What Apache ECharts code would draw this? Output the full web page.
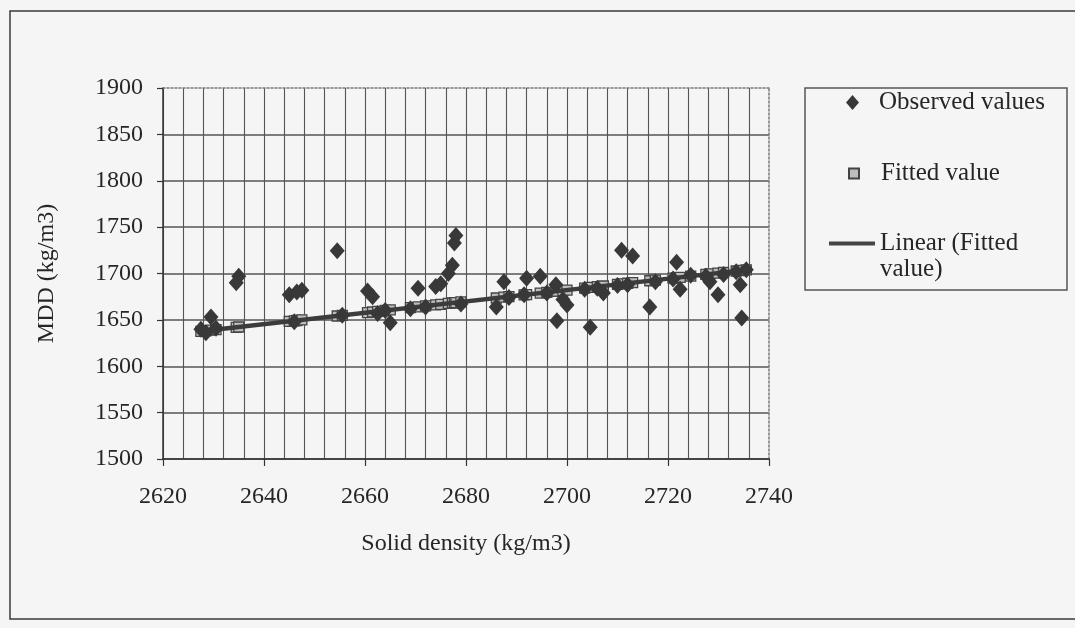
<!DOCTYPE html>
<html>
<head>
<meta charset="utf-8">
<script src="https://cdn.jsdelivr.net/npm/echarts@6/dist/echarts.min.js"></script>
<style>
html,body{margin:0;padding:0;background:#f5f5f5;}
#c{width:1075px;height:628px;}
</style>
</head>
<body>
<div id="c"></div>
<script>
// Solid density (x) for each sample
var density = [2627.5,2628.5,2629.5,2630.5,2634.5,2635,2645,2646,2646.5,2647.5,
  2654.5,2655.5,2660.5,2661.5,2662.5,2664,2665,2669,2670.5,2672,
  2674,2675,2676.5,2677.3,2677.7,2678,2679,2686,2687.5,2688.5,
  2691.5,2692,2694.7,2696,2697.8,2698,2699.2,2700,2703.5,2704.6,
  2706,2707.2,2710,2710.8,2712,2713,2716.4,2717.5,2721,2721.7,
  2722.4,2724.5,2727.5,2728.3,2729.9,2731,2733.5,2734.3,2734.6,2735.5];
// Observed MDD values
var observed = [1640,1636,1653,1641,1690,1697,1677,1648,1680,1682,
  1724.5,1655,1681,1675,1657,1660,1647,1662,1684,1664,
  1686,1689,1700,1709,1733,1741,1667,1664,1691,1674,
  1677,1695,1697,1679,1688,1649,1672,1666,1683,1642,
  1684,1679,1687,1725,1688,1719,1664,1691,1694,1712,
  1683,1698,1697,1691,1677,1699,1702,1688,1652,1704];
// Fitted MDD values
var fitted = [1637.7,1638.3,1638.9,1639.5,1642.0,1642.3,1648.4,1649.0,1649.3,1650.0,
  1654.2,1654.9,1657.9,1658.5,1659.1,1660.1,1660.7,1663.1,1664.1,1665.0,
  1666.2,1666.8,1667.7,1668.2,1668.5,1668.7,1669.3,1673.6,1674.5,1675.1,
  1676.9,1677.2,1678.9,1679.7,1680.8,1680.9,1681.6,1682.1,1684.3,1685.0,
  1685.8,1686.5,1688.3,1688.8,1689.5,1690.1,1692.2,1692.9,1695.0,1695.4,
  1695.9,1697.2,1699.0,1699.5,1700.5,1701.1,1702.7,1703.2,1703.3,1703.9];
var seriesNames = ['Observed values','Fitted value','Linear (Fitted value)'];
var xAxisTitle = 'Solid density (kg/m3)';
var yAxisTitle = 'MDD (kg/m3)';

function pairs(xs, ys){ var out=[]; for(var i=0;i<xs.length;i++) out.push([xs[i], ys[i]]); return out; }
var obsData = pairs(density, observed);
var fitData = pairs(density, fitted);
var lineData = [fitData[0], fitData[fitData.length-1]];

var FONT = 'Liberation Serif';
var TXT = '#262626';
var GRID = '#555555';

var chart = echarts.init(document.getElementById('c'), null, {renderer:'canvas'});
var ySplitColors = []; for (var k=0;k<9;k++) ySplitColors.push(k===8?'rgba(0,0,0,0)':GRID);
var xSplitColors = []; for (var k=0;k<7;k++) xSplitColors.push(k===6?'rgba(0,0,0,0)':GRID);
function plain(v){ return String(v); }

chart.setOption({
  backgroundColor: '#f5f5f5',
  animation: false,
  grid: {left:163, top:88, right:306, bottom:169, containLabel:false},
  xAxis: [{
    type:'value', min:2620, max:2740, interval:20,
    name: xAxisTitle, nameLocation:'middle', nameGap:73,
    nameTextStyle:{fontFamily:FONT, fontSize:24, color:TXT},
    axisLine:{show:true, onZero:false, lineStyle:{color:'#333', width:1.5}},
    axisTick:{show:true, inside:false, length:7, lineStyle:{color:'#333', width:1.2}},
    axisLabel:{fontFamily:FONT, fontSize:24, color:TXT, margin:26, formatter:plain},
    splitLine:{show:true, lineStyle:{color:xSplitColors, width:1.1}},
    minorTick:{show:false, splitNumber:5},
    minorSplitLine:{show:true, lineStyle:{color:GRID, width:1.1}}
  },{
    type:'value', position:'top', min:2620, max:2740, interval:20,
    axisLine:{show:true, lineStyle:{color:'#777', width:1.5, type:[2,2]}},
    axisTick:{show:false}, axisLabel:{show:false}, splitLine:{show:false}
  }],
  yAxis: [{
    type:'value', min:1500, max:1900, interval:50,
    name: yAxisTitle, nameLocation:'middle', nameGap:104,
    nameTextStyle:{fontFamily:FONT, fontSize:24, color:TXT},
    axisLine:{show:true, onZero:false, lineStyle:{color:'#333', width:1.5}},
    axisTick:{show:true, inside:false, length:6, lineStyle:{color:'#333', width:1.2}},
    axisLabel:{fontFamily:FONT, fontSize:24, color:TXT, margin:20, formatter:plain},
    splitLine:{show:true, lineStyle:{color:ySplitColors, width:1.6}}
  },{
    type:'value', position:'right', min:1500, max:1900, interval:50,
    axisLine:{show:true, lineStyle:{color:'#777', width:1.5, type:[2,2]}},
    axisTick:{show:false}, axisLabel:{show:false}, splitLine:{show:false}
  }],
  legend: [{
    data:[{name:seriesNames[0], icon:'diamond'}],
    left:846, top:90, padding:0, itemWidth:13, itemHeight:15,
    textStyle:{fontFamily:FONT, fontSize:25, color:TXT, padding:[0,0,0,15]}
  },{
    data:[{name:seriesNames[1], icon:'rect'}],
    left:848, top:161, padding:0, itemWidth:10, itemHeight:10,
    textStyle:{fontFamily:FONT, fontSize:25, color:TXT, padding:[0,0,0,17]}
  },{
    data:[{name:seriesNames[2], icon:'rect', itemStyle:{color:'#444'}}],
    left:829, top:231, padding:0, itemWidth:46, itemHeight:4,
    formatter:function(){ return 'Linear (Fitted'; },
    textStyle:{fontFamily:FONT, fontSize:25, color:TXT, padding:[0,0,0,0]}
  }],
  graphic: [
    {type:'rect', shape:{x:10, y:11, width:1100, height:608}, style:{fill:'none', stroke:'#3a3a3a', lineWidth:1.5}, silent:true},
    {type:'rect', shape:{x:805, y:88, width:262, height:202}, style:{fill:'none', stroke:'#555', lineWidth:1.5}, silent:true},
    {type:'text', left:880, top:257, style:{text:'value)', font:'25px "Liberation Serif"', fill:TXT}, silent:true}
  ],
  series: [{
    name: seriesNames[1], type:'scatter', data: fitData, symbol:'rect', symbolSize:10, z:2,
    itemStyle:{color:'#bdbdbd', borderColor:'#444', borderWidth:1.3, opacity:1}
  },{
    name: seriesNames[2], type:'line', data: lineData, showSymbol:false, z:3,
    lineStyle:{color:'#3c3c3c', width:4.5}, itemStyle:{color:'#3c3c3c'}
  },{
    name: seriesNames[0], type:'scatter', data: obsData, symbol:'diamond', symbolSize:[15,17], z:4,
    itemStyle:{color:'#383838', opacity:1}
  }]
});
</script>
</body>
</html>
